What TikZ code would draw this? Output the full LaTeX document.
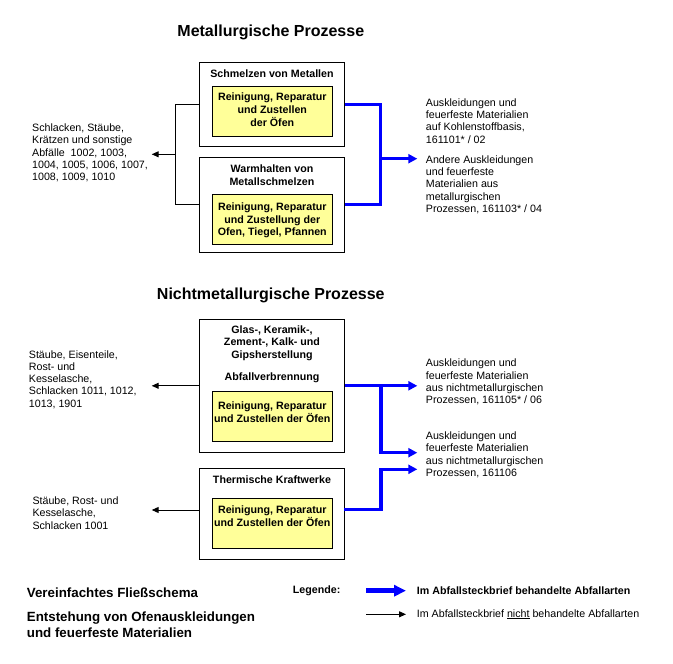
\documentclass[tikz,border=0pt]{standalone}
\usepackage{fontspec}
\setmainfont{Liberation Sans}
\usetikzlibrary{arrows.meta,calc}
\definecolor{yellowfill}{RGB}{255,255,153}
\definecolor{arrowblue}{RGB}{0,0,255}
\begin{document}
\begin{tikzpicture}[x=1pt,y=-1pt,
  outerbox/.style={draw, line width=1pt, minimum width=144.7pt, inner sep=0pt},
  yellowbox/.style={draw, fill=yellowfill, line width=1pt, minimum width=120pt, minimum height=50pt, inner sep=0pt},
  boxtitle/.style={font=\bfseries\fontsize{10.67}{13}\selectfont, align=center, inner sep=0pt},
  body/.style={font=\fontsize{10.67}{12.3}\selectfont, align=left, anchor=west, inner sep=0pt},
  heading/.style={font=\bfseries\fontsize{16}{19}\selectfont, inner sep=0pt},
  bighead/.style={font=\bfseries\fontsize{13.33}{16}\selectfont, align=left, anchor=west, inner sep=0pt},
  legbold/.style={font=\bfseries\fontsize{10.67}{12.3}\selectfont, anchor=west, inner sep=0pt},
  blueline/.style={draw=arrowblue, line width=3.2pt},
  bluearrow/.style={draw=arrowblue, line width=3.2pt, -{Triangle[length=9pt,width=9pt]}},
  blackline/.style={draw, line width=1pt},
  blackarrow/.style={draw, line width=1pt, -{Triangle[length=7pt,width=6pt]}}
]
\fill[white] (0,0) rectangle (673,664);
\useasboundingbox (0,0) rectangle (673,664);

% headings
\node[heading] (h1) at (270.8,32.7) {Metallurgische Prozesse};
\node[heading] (h2) at (270.8,295) {Nichtmetallurgische Prozesse};

% boxes
\node[outerbox, minimum height=84pt] (box1) at (271.7,104.3) {};
\node[outerbox, minimum height=95pt] (box2) at (271.7,204.8) {};
\node[outerbox, minimum height=133pt] (box3) at (271.7,385.8) {};
\node[outerbox, minimum height=91pt] (box4) at (271.7,513.8) {};

\node[yellowbox] (y1) at (272.3,111.3) {};
\node[yellowbox] (y2) at (272.3,219.3) {};
\node[yellowbox] (y3) at (272.3,416.3) {};
\node[yellowbox] (y4) at (272.3,523.3) {};

% box titles
\node[boxtitle] (t1) at (272,74) {Schmelzen von Metallen};
\node[boxtitle] (t2) at (272,175.2) {Warmhalten von\\Metallschmelzen};
\node[boxtitle, font=\bfseries\fontsize{10.67}{12.3}\selectfont] (t3) at (272,343) {Glas-, Keramik-,\\Zement-, Kalk- und\\Gipsherstellung};
\node[boxtitle] (t3b) at (272,377.3) {Abfallverbrennung};
\node[boxtitle] (t4) at (272,479.3) {Thermische Kraftwerke};

% yellow texts
\node[boxtitle] (yt1) at (272.3,109.7) {Reinigung, Reparatur\\und Zustellen\\der Öfen};
\node[boxtitle, font=\bfseries\fontsize{10.67}{12.3}\selectfont] (yt2) at (272.3,220.5) {Reinigung, Reparatur\\und Zustellung der\\Ofen, Tiegel, Pfannen};
\node[boxtitle] (yt3) at (272.3,411.7) {Reinigung, Reparatur\\und Zustellen der Öfen};
\node[boxtitle] (yt4) at (272.3,516) {Reinigung, Reparatur\\und Zustellen der Öfen};

% left texts
\node[body] (l1) at (32,153) {Schlacken, Stäube,\\Krätzen und sonstige\\Abfälle\ \ 1002, 1003,\\1004, 1005, 1006, 1007,\\1008, 1009, 1010};
\node[body] (l2) at (28.7,379.5) {Stäube, Eisenteile,\\Rost- und\\Kesselasche,\\Schlacken 1011, 1012,\\1013, 1901};
\node[body] (l3) at (32.3,513) {Stäube, Rost- und\\Kesselasche,\\Schlacken 1001};

% right texts
\node[body] (r1) at (425.7,121) {Auskleidungen und\\feuerfeste Materialien\\auf Kohlenstoffbasis,\\161101* / 02};
\node[body] (r2) at (425.7,184.7) {Andere Auskleidungen\\und feuerfeste\\Materialien aus\\metallurgischen\\Prozessen, 161103* / 04};
\node[body] (r3) at (425.7,382) {Auskleidungen und\\feuerfeste Materialien\\aus nichtmetallurgischen\\Prozessen, 161105* / 06};
\node[body] (r4) at (425.7,454.8) {Auskleidungen und\\feuerfeste Materialien\\aus nichtmetallurgischen\\Prozessen, 161106};

% junction and tip coordinates
\coordinate (jl) at (175.3,154.3);
\coordinate (tl1) at (151.7,154.3);
\coordinate (tl2) at (151.7,385.8);
\coordinate (b4w) at (199.3,510);
\coordinate (tl3) at (151.7,510);
\coordinate (jr1) at (380.7,158.7);
\coordinate (tr1) at (417.3,158.7);
\coordinate (tr3) at (417.3,385.8);
\coordinate (k3) at (381,385.8);
\coordinate (tr3b) at (417.3,452.7);
\coordinate (b4e) at (344,509.3);
\coordinate (k4) at (381,469.3);
\coordinate (tr4) at (417.3,469.3);

% black connectors
\draw[blackline] (box1.west) -| (jl) |- (box2.west);
\draw[blackarrow] (jl) -- (tl1);
\draw[blackarrow] (box3.west) -- (tl2);
\draw[blackarrow] (b4w) -- (tl3);

% blue connectors
\draw[blueline] (box1.east) -| (jr1) |- (box2.east);
\draw[bluearrow] (jr1) -- (tr1);
\draw[bluearrow] (box3.east) -- (tr3);
\draw[bluearrow] (k3) |- (tr3b);
\draw[bluearrow] (b4e) -| (k4) -- (tr4);

% bottom texts
\node[bighead] (v1) at (26.7,592.7) {Vereinfachtes Fließschema};
\node[bighead] (v2) at (26.7,624.7) {Entstehung von Ofenauskleidungen\\und feuerfeste Materialien};

% legend
\node[legbold] (leg) at (292.7,590.7) {Legende:};
\coordinate (lb1) at (366,590.7);
\coordinate (lb2) at (406,590.7);
\coordinate (lk1) at (366,614.3);
\coordinate (lk2) at (406,614.3);
\draw[draw=arrowblue, line width=5pt, -{Triangle[length=12pt,width=11pt]}] (lb1) -- (lb2);
\draw[blackarrow] (lk1) -- (lk2);
\node[legbold] (legt1) at (416.7,590.7) {Im Abfallsteckbrief behandelte Abfallarten};
\node[body] (legt2) at (416.7,614.3) {Im Abfallsteckbrief \underline{nicht} behandelte Abfallarten};
\end{tikzpicture}
\end{document}
